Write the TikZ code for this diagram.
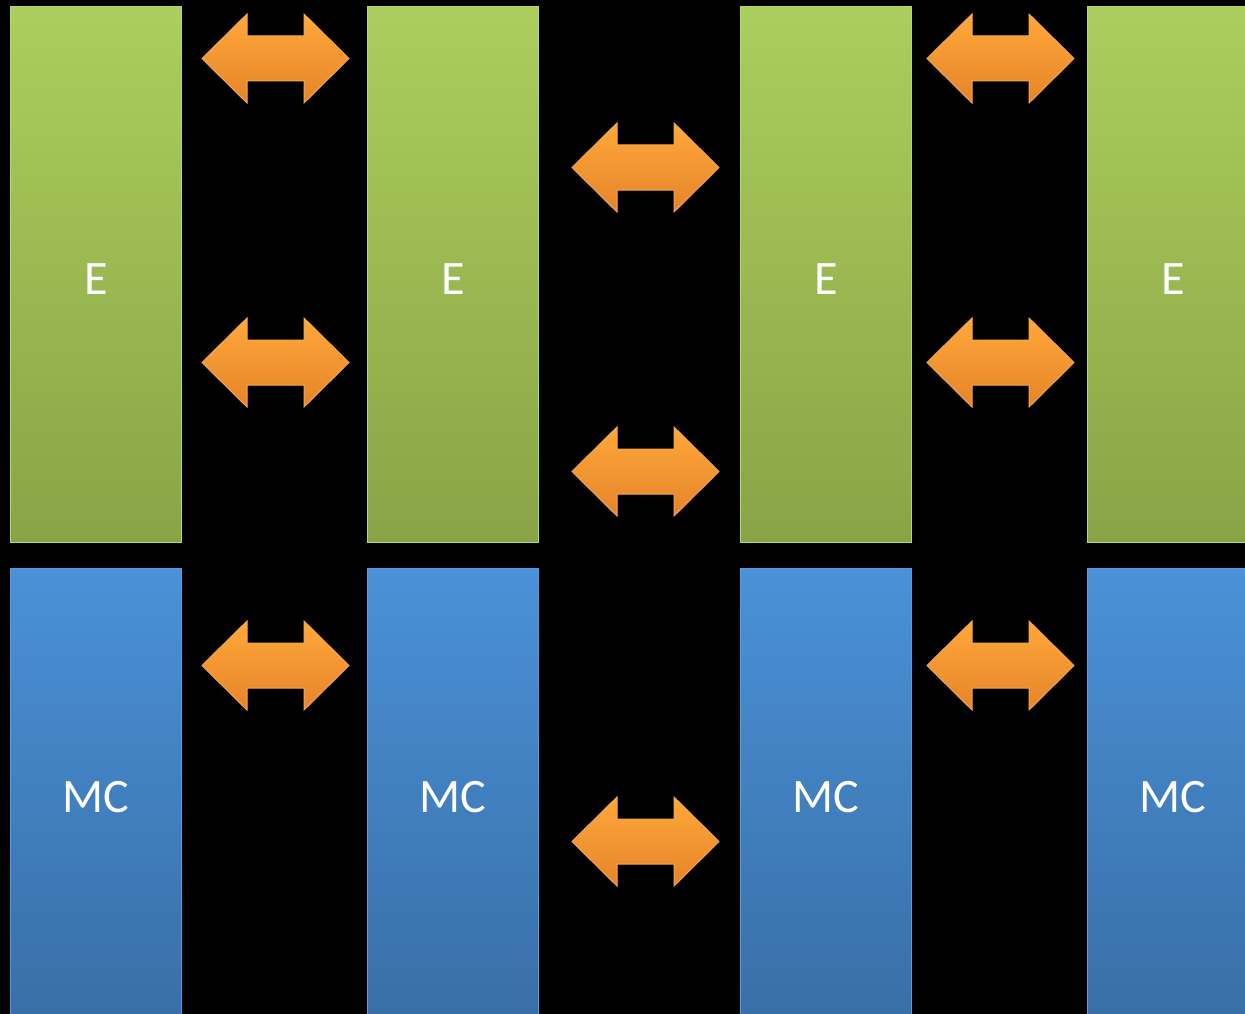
\documentclass[tikz,border=0pt]{standalone}
\usepackage{fontspec}
\setmainfont{Carlito}
\definecolor{gtop}{HTML}{ABCE5D}
\definecolor{gbot}{HTML}{89A446}
\definecolor{gline}{HTML}{B5D86A}
\definecolor{btop}{HTML}{4A91D7}
\definecolor{bbot}{HTML}{386EA6}
\definecolor{bline}{HTML}{5A9BD9}
\definecolor{otop}{HTML}{FFA83A}
\definecolor{obot}{HTML}{E5842A}
\definecolor{oline}{HTML}{F9A649}
\newcommand{\etxt}[1]{\raisebox{-20pt}[0pt][0pt]{#1}}
\newcommand{\mtxt}[1]{\raisebox{-15pt}[0pt][0pt]{#1}}
\begin{document}
\begin{tikzpicture}[x=1pt,y=-1pt,
  ebox/.style={draw=gline,line width=1.2pt,top color=gtop,bottom color=gbot,anchor=north west,minimum width=171pt,minimum height=536pt,inner sep=0pt,text=white,font=\fontsize{48}{54}\selectfont},
  mcbox/.style={draw=bline,line width=1.2pt,top color=btop,bottom color=bbot,anchor=north west,minimum width=171pt,minimum height=458pt,inner sep=0pt,text=white,font=\fontsize{48}{54}\selectfont},
  dblarr/.pic={\path[draw=oline,line width=1pt,top color=otop,bottom color=obot,line join=miter]
     (0,44.5) -- (45,0) -- (45,22) -- (102,22) -- (102,0) -- (147,44.5) -- (102,89) -- (102,67) -- (45,67) -- (45,89) -- cycle;}
]
\fill[black] (0,0) rectangle (1245,1014);
\useasboundingbox (0,0) rectangle (1245,1014);
\clip (0,0) rectangle (1245,1014);
\node[ebox] (e1) at (10,6) {\etxt{E}};
\node[ebox] (e2) at (367,6) {\etxt{E}};
\node[ebox] (e3) at (740,6) {\etxt{E}};
\node[ebox] (e4) at (1087,6) {\etxt{E}};
\node[mcbox] (m1) at (10,568) {\mtxt{MC}};
\node[mcbox] (m2) at (367,568) {\mtxt{MC}};
\node[mcbox] (m3) at (740,568) {\mtxt{MC}};
\node[mcbox] (m4) at (1087,568) {\mtxt{MC}};
\pic (a1) at (202,14) {dblarr};
\pic (a2) at (202,318) {dblarr};
\pic (a3) at (572,123) {dblarr};
\pic (a4) at (572,427) {dblarr};
\pic (a5) at (927,14) {dblarr};
\pic (a6) at (927,318) {dblarr};
\pic (a7) at (202,621) {dblarr};
\pic (a8) at (927,621) {dblarr};
\pic (a9) at (572,797) {dblarr};
\end{tikzpicture}
\end{document}
